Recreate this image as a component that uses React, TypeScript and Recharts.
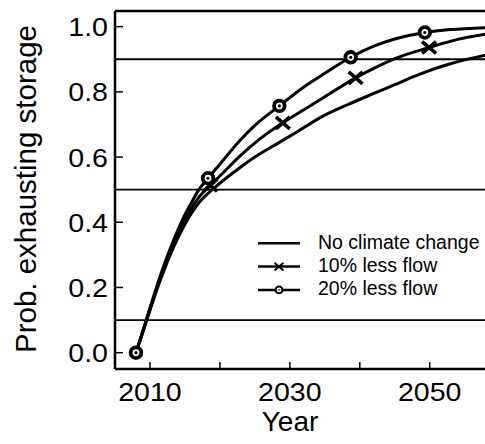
import React from 'react';
import { LineChart, Line, XAxis, YAxis, ReferenceLine, Legend } from 'recharts';

const FONT = '"Liberation Sans", Arial, Helvetica, sans-serif';

// series names, in legend order
const seriesNames = ['No climate change', '10% less flow', '20% less flow'];
const markerKinds = ['none', 'x', 'circle'];

// [year, probability]
const noChange: [number, number][] = [
  [2008, 0], [2009, 0.064], [2010, 0.13], [2011, 0.194], [2012, 0.252], [2013, 0.305],
  [2014, 0.352], [2015, 0.394], [2016, 0.43], [2017, 0.46], [2018.9, 0.5], [2020, 0.52],
  [2022.7, 0.565], [2025, 0.6], [2028.5, 0.645], [2031, 0.677], [2034.6, 0.724],
  [2038.4, 0.762], [2042, 0.795], [2045, 0.822], [2048.4, 0.853], [2052, 0.88],
  [2055, 0.898], [2058, 0.913],
];

const less10: [number, number][] = [
  [2008, 0], [2009, 0.066], [2010, 0.134], [2011, 0.2], [2012, 0.26], [2013, 0.315],
  [2014, 0.365], [2015, 0.408], [2016, 0.445], [2017, 0.477], [2018.6, 0.513],
  [2020, 0.542], [2022.7, 0.6], [2025.5, 0.652], [2029, 0.705], [2032, 0.745],
  [2035, 0.785], [2039.4, 0.843], [2042, 0.872], [2045, 0.902], [2049.9, 0.936],
  [2054, 0.961], [2058, 0.977],
];

const less20: [number, number][] = [
  [2008, 0], [2009, 0.068], [2010, 0.138], [2011, 0.205], [2012, 0.268], [2013, 0.325],
  [2014, 0.377], [2015, 0.423], [2016, 0.463], [2017, 0.5], [2018.3, 0.535],
  [2020, 0.578], [2022.7, 0.647], [2025, 0.697], [2028.5, 0.757], [2032, 0.815],
  [2035, 0.857], [2038.7, 0.906], [2042, 0.94], [2045, 0.962], [2049.3, 0.982],
  [2053, 0.991], [2058, 0.997],
];

// years where a symbol is drawn on the curve
const less10Marks = [2018.6, 2029, 2039.4, 2049.9];
const less20Marks = [2008, 2018.3, 2028.5, 2038.7, 2049.3];

const yTicks = [0, 0.2, 0.4, 0.6, 0.8, 1.0];
const xTicks = [2010, 2020, 2030, 2040, 2050];
const xTickLabels = ['2010', '', '2030', '', '2050'];
const thresholds = [0.1, 0.5, 0.9];

const toRows = (pts: [number, number][], marks: number[] = []) =>
  pts.map(([year, p]) => ({ year, p, mark: marks.includes(year) }));

function CircleMark({ cx, cy, r = 5.3, w = 3.8, inner = 1.6 }: any) {
  return (
    <g>
      <circle cx={cx} cy={cy} r={r} fill="#fff" stroke="#000" strokeWidth={w} />
      <circle cx={cx} cy={cy} r={inner} fill="#000" />
    </g>
  );
}

function CrossMark({ cx, cy, s = 7, w = 3.6 }: any) {
  const h = s * 0.85;
  return (
    <g stroke="#000" strokeWidth={w}>
      <line x1={cx - s} y1={cy - h} x2={cx + s} y2={cy + h} />
      <line x1={cx - s} y1={cy + h} x2={cx + s} y2={cy - h} />
    </g>
  );
}

const markerDot = (kind: string) => (props: any) => {
  const { cx, cy, payload, index } = props;
  if (!payload || !payload.mark) return <g key={`n-${index}`} />;
  if (kind === 'x') return <CrossMark key={`x-${index}`} cx={cx} cy={cy} />;
  return <CircleMark key={`c-${index}`} cx={cx} cy={cy} />;
};

const XTick = ({ x, y, index }: any) => (
  <text
    transform={`translate(${x},${y + 17}) scale(1.12,1)`}
    textAnchor="middle"
    fontSize={25.5}
    fontFamily={FONT}
    fill="#000"
  >
    {xTickLabels[index]}
  </text>
);

const YTick = ({ x, y, payload }: any) => (
  <text
    transform={`translate(${x},${y + 9.5}) scale(1.1,1)`}
    textAnchor="end"
    fontSize={26}
    fontFamily={FONT}
    fill="#000"
  >
    {Number(payload.value).toFixed(1)}
  </text>
);

const renderYTitle = () => (
  <text
    transform="translate(36,189) rotate(-90)"
    textAnchor="middle"
    fontSize={29.5}
    fontFamily={FONT}
    fill="#000"
  >
    Prob. exhausting storage
  </text>
);

const renderXTitle = () => (
  <text x={290} y={431} textAnchor="middle" fontSize={28} fontFamily={FONT} fill="#000">
    Year
  </text>
);

const renderLegend = (props: any) => {
  const items = [...(props.payload || [])].sort(
    (a: any, b: any) => seriesNames.indexOf(a.value) - seriesNames.indexOf(b.value)
  );
  return (
    <svg width={235} height={75} style={{ display: 'block' }}>
      {items.map((entry: any, i: number) => {
        const y = 13.3 + i * 23.3;
        const kind = markerKinds[seriesNames.indexOf(entry.value)];
        return (
          <g key={entry.value}>
            <line x1={8} x2={50} y1={y} y2={y} stroke="#000" strokeWidth={2.5} />
            {kind === 'x' && <CrossMark cx={29} cy={y} s={4.5} w={2} />}
            {kind === 'circle' && <CircleMark cx={29} cy={y} r={3.4} w={2} inner={0.8} />}
            <text x={68} y={y + 5.5} fontSize={19.5} fontFamily={FONT} fill="#000">
              {entry.value}
            </text>
          </g>
        );
      })}
    </svg>
  );
};

export default function App() {
  return (
    <div style={{ position: 'absolute', left: 0, top: 0, background: '#fff' }}>
      <LineChart width={485} height={444} margin={{ top: 11, right: 0, bottom: 0, left: 0 }}>
        <XAxis
          type="number"
          dataKey="year"
          domain={[2005, 2057.9]}
          allowDataOverflow
          ticks={xTicks}
          interval={0}
          height={75}
          tickSize={-7}
          tickMargin={22}
          tick={<XTick />}
          axisLine={{ stroke: '#000', strokeWidth: 2.5 }}
          tickLine={{ stroke: '#000', strokeWidth: 1.5 }}
          label={renderXTitle}
        />
        <YAxis
          type="number"
          domain={[-0.05, 1.048]}
          allowDataOverflow
          ticks={yTicks}
          interval={0}
          width={115}
          tickSize={-8}
          tickMargin={15}
          tick={<YTick />}
          axisLine={{ stroke: '#000', strokeWidth: 2.5 }}
          tickLine={{ stroke: '#000', strokeWidth: 1.5 }}
          label={renderYTitle}
        />
        <ReferenceLine y={1.048} stroke="#000" strokeWidth={2.5} />
        {thresholds.map((t) => (
          <ReferenceLine key={t} y={t} stroke="#000" strokeWidth={1.8} />
        ))}
        <Line
          data={toRows(noChange)}
          dataKey="p"
          name={seriesNames[0]}
          type="monotone"
          stroke="#000"
          strokeWidth={3}
          dot={false}
          activeDot={false}
          isAnimationActive={false}
        />
        <Line
          data={toRows(less10, less10Marks)}
          dataKey="p"
          name={seriesNames[1]}
          type="monotone"
          stroke="#000"
          strokeWidth={3}
          dot={markerDot('x')}
          activeDot={false}
          isAnimationActive={false}
        />
        <Line
          data={toRows(less20, less20Marks)}
          dataKey="p"
          name={seriesNames[2]}
          type="monotone"
          stroke="#000"
          strokeWidth={3}
          dot={markerDot('circle')}
          activeDot={false}
          isAnimationActive={false}
        />
        <Legend
          layout="vertical"
          align="center"
          verticalAlign="middle"
          content={renderLegend}
          wrapperStyle={{ left: 250, top: 230, width: 235, height: 75 }}
        />
      </LineChart>
    </div>
  );
}
